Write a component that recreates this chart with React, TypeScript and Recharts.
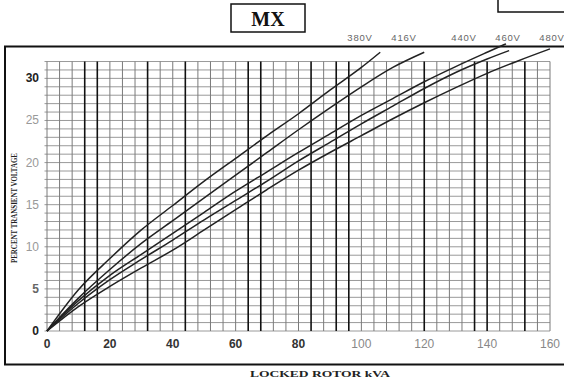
import React from "react";
import { LineChart, Line, XAxis, YAxis, ReferenceLine } from "recharts";

// locked rotor kVA vs % transient voltage dip, one curve per voltage
const KVA_380 = [0, 10, 20, 30, 40, 50, 60, 70, 80, 90, 100, 106];
const DIP_380 = [0, 4.9, 8.6, 12.0, 14.9, 17.8, 20.5, 23.2, 25.8, 28.6, 31.3, 33.1];
const KVA_416 = [0, 10, 20, 30, 40, 50, 60, 70, 80, 90, 100, 110, 120];
const DIP_416 = [0, 3.9, 7.3, 10.4, 13.1, 15.8, 18.5, 21.2, 23.9, 26.5, 29.0, 31.3, 33.1];
const KVA_440 = [0, 10, 20, 30, 40, 50, 60, 70, 80, 90, 100, 110, 120, 130, 140, 146];
const DIP_440 = [0, 3.6, 6.6, 9.1, 11.6, 14.1, 16.6, 18.9, 21.2, 23.4, 25.6, 27.6, 29.6, 31.4, 33.1, 34.1];
const KVA_460 = [0, 10, 20, 30, 40, 50, 60, 70, 80, 90, 100, 110, 120, 130, 140, 147];
const DIP_460 = [0, 3.3, 6.1, 8.5, 10.8, 13.2, 15.5, 17.8, 20.2, 22.4, 24.6, 26.7, 28.8, 30.7, 32.3, 33.3];
const KVA_480 = [0, 10, 20, 30, 40, 50, 60, 70, 80, 90, 100, 110, 120, 130, 140, 150, 160];
const DIP_480 = [0, 2.9, 5.3, 7.5, 9.6, 12.0, 14.4, 16.8, 19.1, 21.2, 23.2, 25.2, 27.1, 28.9, 30.6, 32.1, 33.5];

const X_TICKS = [0, 20, 40, 60, 80, 100, 120, 140, 160];
const Y_TICKS = [0, 5, 10, 15, 20, 25, 30];
const THICK_KVA = [12, 16, 32, 44, 64, 68, 84, 92, 96, 120, 136, 140, 152];
const GRID_TOP = 32;

const toPoints = (xs: number[], ys: number[]) => xs.map((x, i) => ({ kva: x, dip: ys[i] }));

const SERIES = [
  { name: "380V", data: toPoints(KVA_380, DIP_380) },
  { name: "416V", data: toPoints(KVA_416, DIP_416) },
  { name: "440V", data: toPoints(KVA_440, DIP_440) },
  { name: "460V", data: toPoints(KVA_460, DIP_460) },
  { name: "480V", data: toPoints(KVA_480, DIP_480) },
];

const V_GRID = Array.from({ length: 41 }, (_, i) => i * 4);
const H_GRID = Array.from({ length: GRID_TOP + 1 }, (_, i) => i);

const SANS = "'Liberation Sans', Arial, sans-serif";
const SERIF = "'Liberation Serif', 'DejaVu Serif', serif";

function XTick({ x, y, payload }: any) {
  const dark = payload.value <= 80;
  return (
    <text x={x} y={y} dy={9} textAnchor="middle" fontSize={12} fontFamily={SANS}
      fontWeight={dark ? 700 : 400} fill={dark ? "#333" : "#888"}>
      {payload.value}
    </text>
  );
}

function YTick({ x, y, payload }: any) {
  const v = payload.value;
  const dark = v === 0 || v === 30;
  return (
    <text x={x} y={y} dy={4} textAnchor="end" fontSize={12} fontFamily={SANS}
      fontWeight={dark || v === 5 ? 700 : 400} fill={dark ? "#222" : v === 5 ? "#666" : "#999"}>
      {v}
    </text>
  );
}

export default function App() {
  return (
    <div style={{ position: "absolute", left: 0, top: 0, width: 564, height: 385, background: "#fff", overflow: "hidden" }}>
      <svg width={564} height={385} style={{ position: "absolute", left: 0, top: 0 }}>
        <rect x={5} y={46.5} width={575} height={318} fill="none" stroke="#111" strokeWidth={2} />
        <rect x={231} y={4} width={74} height={28} fill="none" stroke="#111" strokeWidth={1.5} />
        <text x={268} y={26} textAnchor="middle" fontSize={20} fontWeight={700} fontFamily={SERIF} fill="#111">MX</text>
        <rect x={498} y={-4} width={72} height={16} fill="none" stroke="#111" strokeWidth={1.5} />
        {[
          ["380V", 360],
          ["416V", 404],
          ["440V", 464],
          ["460V", 508],
          ["480V", 552],
        ].map(([t, cx]) => (
          <text key={t as string} x={cx as number} y={41} textAnchor="middle" fontSize={9.5}
            letterSpacing={0.8} fontFamily={SANS} fill="#666">{t}</text>
        ))}
        <text x={320} y={377} textAnchor="middle" fontSize={9} fontWeight={700} fontFamily={SERIF}
          fill="#222" textLength={140} lengthAdjust="spacingAndGlyphs">LOCKED ROTOR kVA</text>
        <text transform="translate(17,208) rotate(-90)" textAnchor="middle" fontSize={9} fontWeight={700}
          fontFamily={SERIF} fill="#222" textLength={110} lengthAdjust="spacingAndGlyphs">
          PERCENT TRANSIENT VOLTAGE
        </text>
      </svg>
      <div style={{ position: "absolute", left: 0, top: 0 }}>
        <LineChart width={564} height={385} margin={{ top: 43, right: 14, bottom: 24, left: 7 }}>
          <XAxis dataKey="kva" type="number" domain={[0, 160]} ticks={X_TICKS} interval={0}
            axisLine={false} tickLine={false} height={30} tick={<XTick />} allowDuplicatedCategory={false} />
          <YAxis type="number" domain={[0, 34.2]} ticks={Y_TICKS} interval={0} width={40}
            axisLine={false} tickLine={false} tick={<YTick />} />
          {H_GRID.map((v) => (
            <ReferenceLine key={`h${v}`} segment={[{ x: -0.8, y: v }, { x: 160, y: v }]}
              stroke="#9a9a9a" strokeWidth={1} ifOverflow="visible" />
          ))}
          {V_GRID.map((v) => {
            const thick = THICK_KVA.includes(v);
            return (
              <ReferenceLine key={`v${v}`} segment={[{ x: v, y: 0 }, { x: v, y: GRID_TOP }]}
                stroke={thick ? "#111" : "#7a7a7a"} strokeWidth={thick ? 1.6 : 1} ifOverflow="visible" />
            );
          })}
          {SERIES.map((s) => (
            <Line key={s.name} data={s.data} dataKey="dip" name={s.name} type="monotone"
              stroke="#222" strokeWidth={1.5} dot={false} isAnimationActive={false} />
          ))}
        </LineChart>
      </div>
    </div>
  );
}
